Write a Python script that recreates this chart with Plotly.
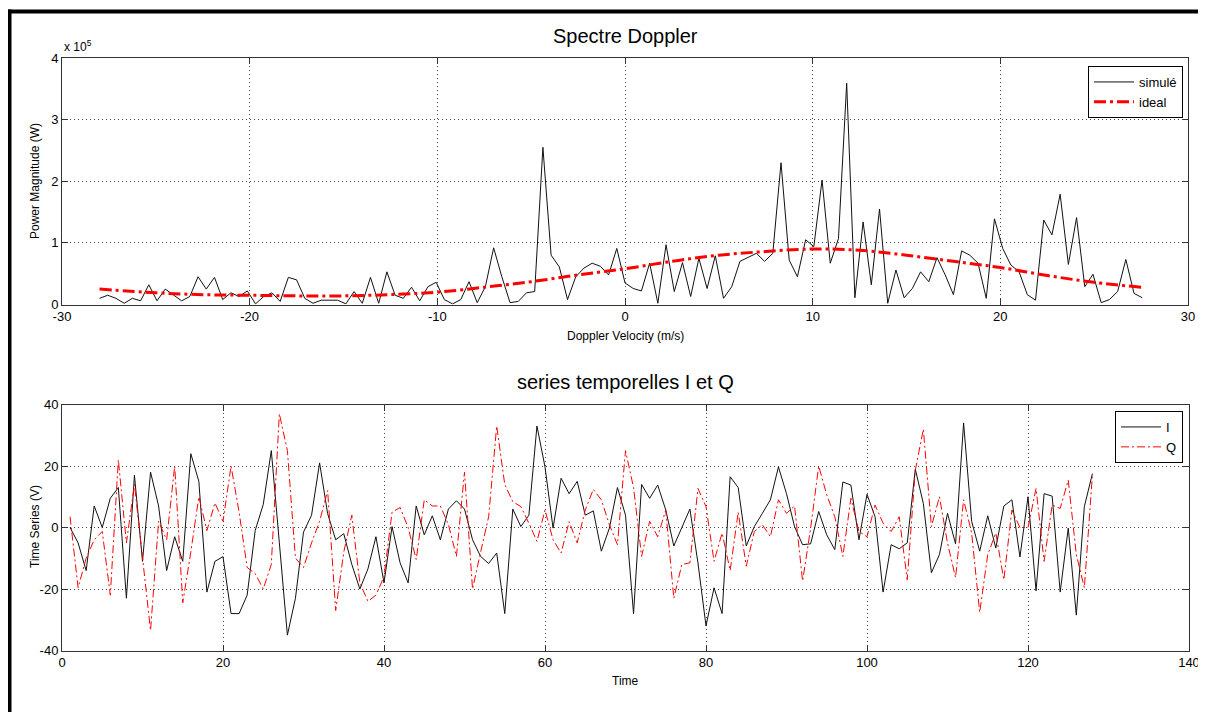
import numpy as np
import plotly.graph_objects as go

# ----------------------------------------
# DONNEES
# ----------------------------------------
N_VEL = 128
velocity = -28 + 0.4375 * np.arange(N_VEL)   # axe des vitesses (m/s)

# puissance simulee, en unites de 1e5 W
simule = [0.10, 0.15, 0.10, 0.02, 0.10, 0.06, 0.32, 0.06, 0.25, 0.15,
          0.06, 0.13, 0.45, 0.25, 0.44, 0.08, 0.19, 0.13, 0.22, 0.01,
          0.13, 0.19, 0.05, 0.44, 0.40, 0.10, 0.02, 0.07, 0.07, 0.07,
          0.01, 0.21, 0.02, 0.44, 0.02, 0.53, 0.15, 0.10, 0.28, 0.06,
          0.29, 0.36, 0.08, 0.01, 0.08, 0.37, 0.03, 0.29, 0.92, 0.45,
          0.03, 0.05, 0.19, 0.21, 2.55, 0.80, 0.61, 0.08, 0.45, 0.59,
          0.67, 0.62, 0.48, 0.91, 0.35, 0.26, 0.22, 0.67, 0.02, 0.97,
          0.21, 0.68, 0.13, 0.75, 0.26, 0.79, 0.10, 0.29, 0.70, 0.77,
          0.83, 0.70, 0.83, 2.30, 0.72, 0.45, 1.05, 0.94, 2.02, 0.67,
          1.07, 3.59, 0.11, 1.34, 0.32, 1.55, 0.02, 0.56, 0.11, 0.26,
          0.53, 0.37, 0.76, 0.48, 0.16, 0.87, 0.80, 0.67, 0.10, 1.39,
          0.91, 0.64, 0.53, 0.16, 0.07, 1.37, 1.13, 1.79, 0.65, 1.41,
          0.29, 0.49, 0.03, 0.08, 0.21, 0.73, 0.18, 0.11]

# spectre ideal (1e5 W)
ideal_v = [-28, -25, -22.5, -20, -17.5, -15, -12.5, -10, -7.5, -5, -2.5, 0,
           2.5, 5, 7.5, 10, 12.5, 15, 17.5, 20, 22.5, 25, 27.5]
ideal_p = [0.25, 0.19, 0.16, 0.15, 0.14, 0.14, 0.16, 0.20, 0.28, 0.37, 0.48, 0.58,
           0.70, 0.80, 0.86, 0.90, 0.88, 0.80, 0.70, 0.60, 0.47, 0.36, 0.28]

time = np.arange(1, 129)
serie_I = [0, -5, -14, 7, 0, 9.5, 13, -23, 17, -11,
           18, 7, -14, -3, -11, 24, 15, -21, -11, -9.5,
           -28, -28, -22, -1, 7.5, 25, -5, -35, -23, -1.5,
           4, 21, 4.5, -4, -2, -12, -20, -13.5, -3, -18,
           0.3, -11.5, -18, 7, -2.4, 3.8, -4, 6, 8.7, 6,
           -4, -9.4, -11.7, -8.3, -28, 6, 0.3, 4, 33, 19.7,
           -0.2, 16, 11, 15, 4, 5.4, -7.7, -0.2, 13, 4,
           -28, 14, 9.5, 13.8, 5.7, -6, 0, 6, -11.5, -32,
           -19.6, -28, 16.5, 13, -6, 0.3, 4.6, 9, 19.7, 11,
           0.3, -5.6, -5.3, 5.2, -2.4, -7.2, 14.8, 13.8, -4, 10.8,
           3.5, -21, -5.6, -6.9, -5, 19, 7.8, -14.7, -8.8, 4.6,
           -5.3, 34, 2, -7.7, 3.8, -6.7, 7, 9, -9.6, 10,
           -20.6, 11, 10.2, -21, -0.2, -28.5, 6.8, 17.5]
serie_Q = [3.5, -19.6, -10, -4, -1.3, -22, 22, -5, 14, -9.4,
           -33.5, 2, -4, 20, -24.5, -8, 10, -1, 8, 2,
           20, 5, -13, -15, -20, -12, 37, 25, -10, -13,
           -5, 2, 12, -27, -8, 4, -18, -24, -22, -16,
           5, 6.5, 0, -10.4, 9, 7, 7, 1, -9.4, 18,
           -20, -8, 3.5, 33, 14, 8.4, 6.8, 1.4, -4.5, 5.7,
           -4, -8.3, 1.9, -5, 5.7, 12.4, 9, 0.9, -5.6, 25,
           13, -9.4, 2, -3, 5.7, -23, -12, -11.5, 12.7, 6.8,
           -11, -1.8, -14, 5, -12.6, -1.3, 0.9, -3, 9, 4.6,
           7, -17.4, -0.2, 20, 10.6, 3.5, -9.4, 9.5, -1.3, -3,
           7.3, 1.4, -1.3, 3.5, -17, 18.6, 32, 0.3, 10, -5,
           -16.3, 9, -1.8, -27.6, -8.8, -1.8, -17, 5.7, 0, 0,
           12.7, -11, 7.3, 6.2, 15.4, -8.8, -19.6, 17]

# graduations (tirets ASCII comme sous MATLAB)
vel_ticks = [-30, -20, -10, 0, 10, 20, 30]
pow_ticks = [0, 1, 2, 3, 4]
time_ticks = [0, 20, 40, 60, 80, 100, 120, 140]
volt_ticks = [-40, -20, 0, 20, 40]

# la page HTML ajoute une marge de 8 px : on travaille en pixels de la fenetre
OFF = 8
W, H = 1206 - OFF, 712 - OFF
FONT = "Liberation Sans, Arial, sans-serif"


def px(x):
    return (x - OFF) / W


def py(y):
    return 1 - (y - OFF) / H


fig = go.Figure()

# Spectre Doppler
fig.add_trace(go.Scatter(x=velocity, y=simule, mode='lines', name='simulé',
                         line=dict(color='#111111', width=1), xaxis='x', yaxis='y',
                         legend='legend'))
fig.add_trace(go.Scatter(x=ideal_v, y=ideal_p, mode='lines', name='ideal',
                         line=dict(color='#ff0000', width=3, dash='12px,4px,3px,4px',
                                   shape='spline'),
                         xaxis='x', yaxis='y', legend='legend'))

# series temporelles
fig.add_trace(go.Scatter(x=time, y=serie_I, mode='lines', name='I',
                         line=dict(color='#111111', width=1), xaxis='x2', yaxis='y2',
                         legend='legend2'))
fig.add_trace(go.Scatter(x=time, y=serie_Q, mode='lines', name='Q',
                         line=dict(color='#ff0000', width=1, dash='8px,3px,2px,3px'),
                         xaxis='x2', yaxis='y2', legend='legend2'))

axe = dict(showline=True, linecolor='#333333', linewidth=1, mirror='ticks',
           ticks='inside', ticklen=6, tickcolor='#333333',
           showgrid=True, gridcolor='#444444', griddash='1px,3px', gridwidth=1,
           zeroline=False, tickfont=dict(size=13, color='black', family=FONT))


def graduations(vals):
    return dict(tickvals=vals, ticktext=[str(v) for v in vals])


fig.update_layout(
    width=W, height=H,
    margin=dict(l=0, r=0, t=0, b=0, autoexpand=False),
    paper_bgcolor='white', plot_bgcolor='white',
    font=dict(family=FONT, color='black'),
    xaxis=dict(axe, **graduations(vel_ticks), domain=[px(62), px(1188)], range=[-30, 30],
               anchor='y'),
    yaxis=dict(axe, **graduations(pow_ticks), domain=[py(304.5), py(58)],
               range=[0, 4], anchor='x'),
    xaxis2=dict(axe, **graduations(time_ticks), domain=[px(62), px(1189)], range=[0, 140],
                anchor='y2'),
    yaxis2=dict(axe, **graduations(volt_ticks), domain=[py(650.5), py(404.5)],
                range=[-40, 40], anchor='x2'),
    legend=dict(x=px(1183), y=py(66), xanchor='right', yanchor='top',
                bgcolor='white', bordercolor='black', borderwidth=1,
                font=dict(size=13, family=FONT), itemwidth=40, tracegroupgap=0),
    legend2=dict(x=px(1183), y=py(411), xanchor='right', yanchor='top',
                 bgcolor='white', bordercolor='black', borderwidth=1,
                 font=dict(size=13, family=FONT), itemwidth=40, tracegroupgap=0),
    showlegend=True,
)

annotations = [
    dict(text='Spectre Doppler', x=px(625), y=py(36), font=dict(size=20)),
    dict(text='series temporelles I et Q', x=px(625), y=py(382), font=dict(size=20)),
    dict(text='Doppler Velocity (m/s)', x=px(625), y=py(336), font=dict(size=12)),
    dict(text='Time', x=px(625), y=py(681), font=dict(size=12)),
    dict(text='Power Magnitude (W)', x=px(35), y=py(181), textangle=-90, font=dict(size=12)),
    dict(text='Time Series (V)', x=px(35), y=py(527), textangle=-90, font=dict(size=12)),
    dict(text='x 10<sup>5</sup>', x=px(62), y=py(46), xanchor='left', font=dict(size=12)),
]
for a in annotations:
    a.setdefault('xanchor', 'center')
    fig.add_annotation(xref='paper', yref='paper', showarrow=False, yanchor='middle',
                       font_family=FONT, **a)

# cadre noir de la fenetre
fig.add_shape(type='line', xref='paper', yref='paper', x0=px(7), x1=1, y0=py(11.5),
              y1=py(11.5), line=dict(color='black', width=4))
fig.add_shape(type='line', xref='paper', yref='paper', x0=px(9.5), x1=px(9.5), y0=0,
              y1=py(9.5), line=dict(color='black', width=4))

fig.write_html("out.html")
